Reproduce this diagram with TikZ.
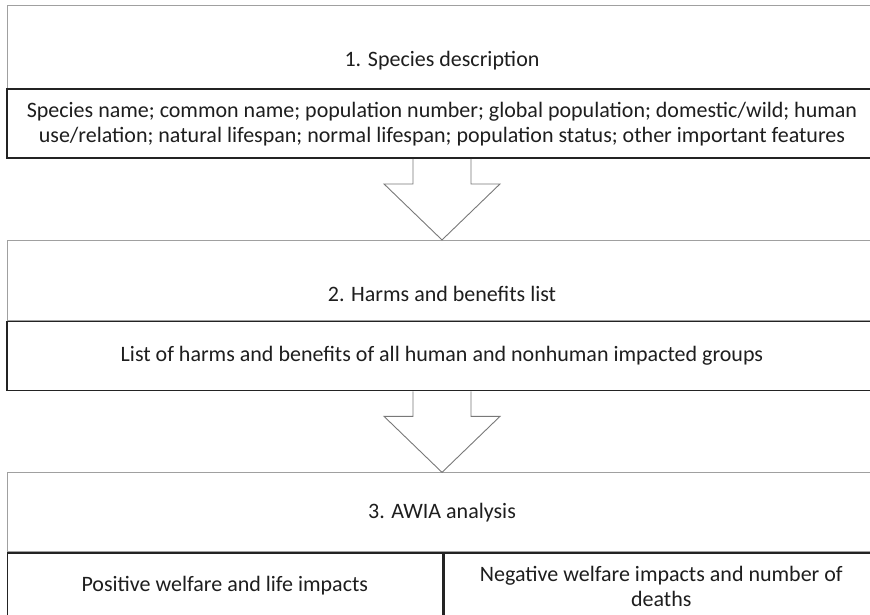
\documentclass[tikz,border=0pt]{standalone}
\usepackage{fontspec}
\setmainfont{Carlito}
\usetikzlibrary{positioning,calc}
\definecolor{BoxGray}{RGB}{160,160,160}
\definecolor{LineBlack}{RGB}{35,35,35}
\definecolor{ArrowGray}{RGB}{120,120,120}
\definecolor{TextBlack}{RGB}{30,30,30}
\tikzset{
  headbox/.style={draw=BoxGray, fill=white, line width=0.9pt,
    minimum width=870pt, inner sep=0pt, text=TextBlack,
    font=\fontsize{22}{25}\selectfont},
  detailbox/.style={draw=LineBlack, fill=white, line width=1.5pt,
    minimum width=870pt, minimum height=69pt, align=center,
    text=TextBlack, font=\fontsize{22}{25}\selectfont},
  cellbox/.style={draw=LineBlack, fill=white, line width=1.5pt,
    minimum width=435pt, minimum height=66pt, align=center,
    text=TextBlack, font=\fontsize{22}{25}\selectfont},
  title/.style={text=TextBlack, font=\fontsize{22}{25}\selectfont},
  blockarrow/.style={draw=ArrowGray, line width=0.9pt, line join=miter}
}

\begin{document}
\begin{tikzpicture}[x=1pt,y=-1pt]
  \useasboundingbox (0,0) rectangle (870,615);

  % step 1
  \node[headbox, minimum height=83pt] (h1) at (442,46.5) {};
  \node[title] (t1) at ($(h1.center)+(0,14)$) {1. Species description};
  \node[detailbox, below=0pt of h1] (d1)
    {Species name; common name; population number; global population; domestic/wild; human\\
     use/relation; natural lifespan; normal lifespan; population status; other important features};

  % step 2
  \node[headbox, minimum height=80pt, below=81pt of d1] (h2) {};
  \node[title] (t2) at ($(h2.center)+(0,14)$) {2. Harms and benefits list};
  \node[detailbox, below=0pt of h2] (d2)
    {List of harms and benefits of all human and nonhuman impacted groups};

  % step 3
  \node[headbox, minimum height=79pt, below=81pt of d2] (h3) {3. AWIA analysis};
  \node[cellbox, below right=0pt of h3.south west] (c1) {Positive welfare and life impacts};
  \node[cellbox, right=0pt of c1] (c2) {Negative welfare impacts and number of\\deaths};

  % arrows
  \draw[blockarrow] ($(d1.south)+(-29,0)$) -- ++(0,25) -- ++(-29,0) -- (h2.north)
    -- ($(d1.south)+(58,25)$) -- ++(-29,0) -- ++(0,-25);
  \draw[blockarrow] ($(d2.south)+(-29,0)$) -- ++(0,25) -- ++(-29,0) -- (h3.north)
    -- ($(d2.south)+(58,25)$) -- ++(-29,0) -- ++(0,-25);
\end{tikzpicture}
\end{document}
